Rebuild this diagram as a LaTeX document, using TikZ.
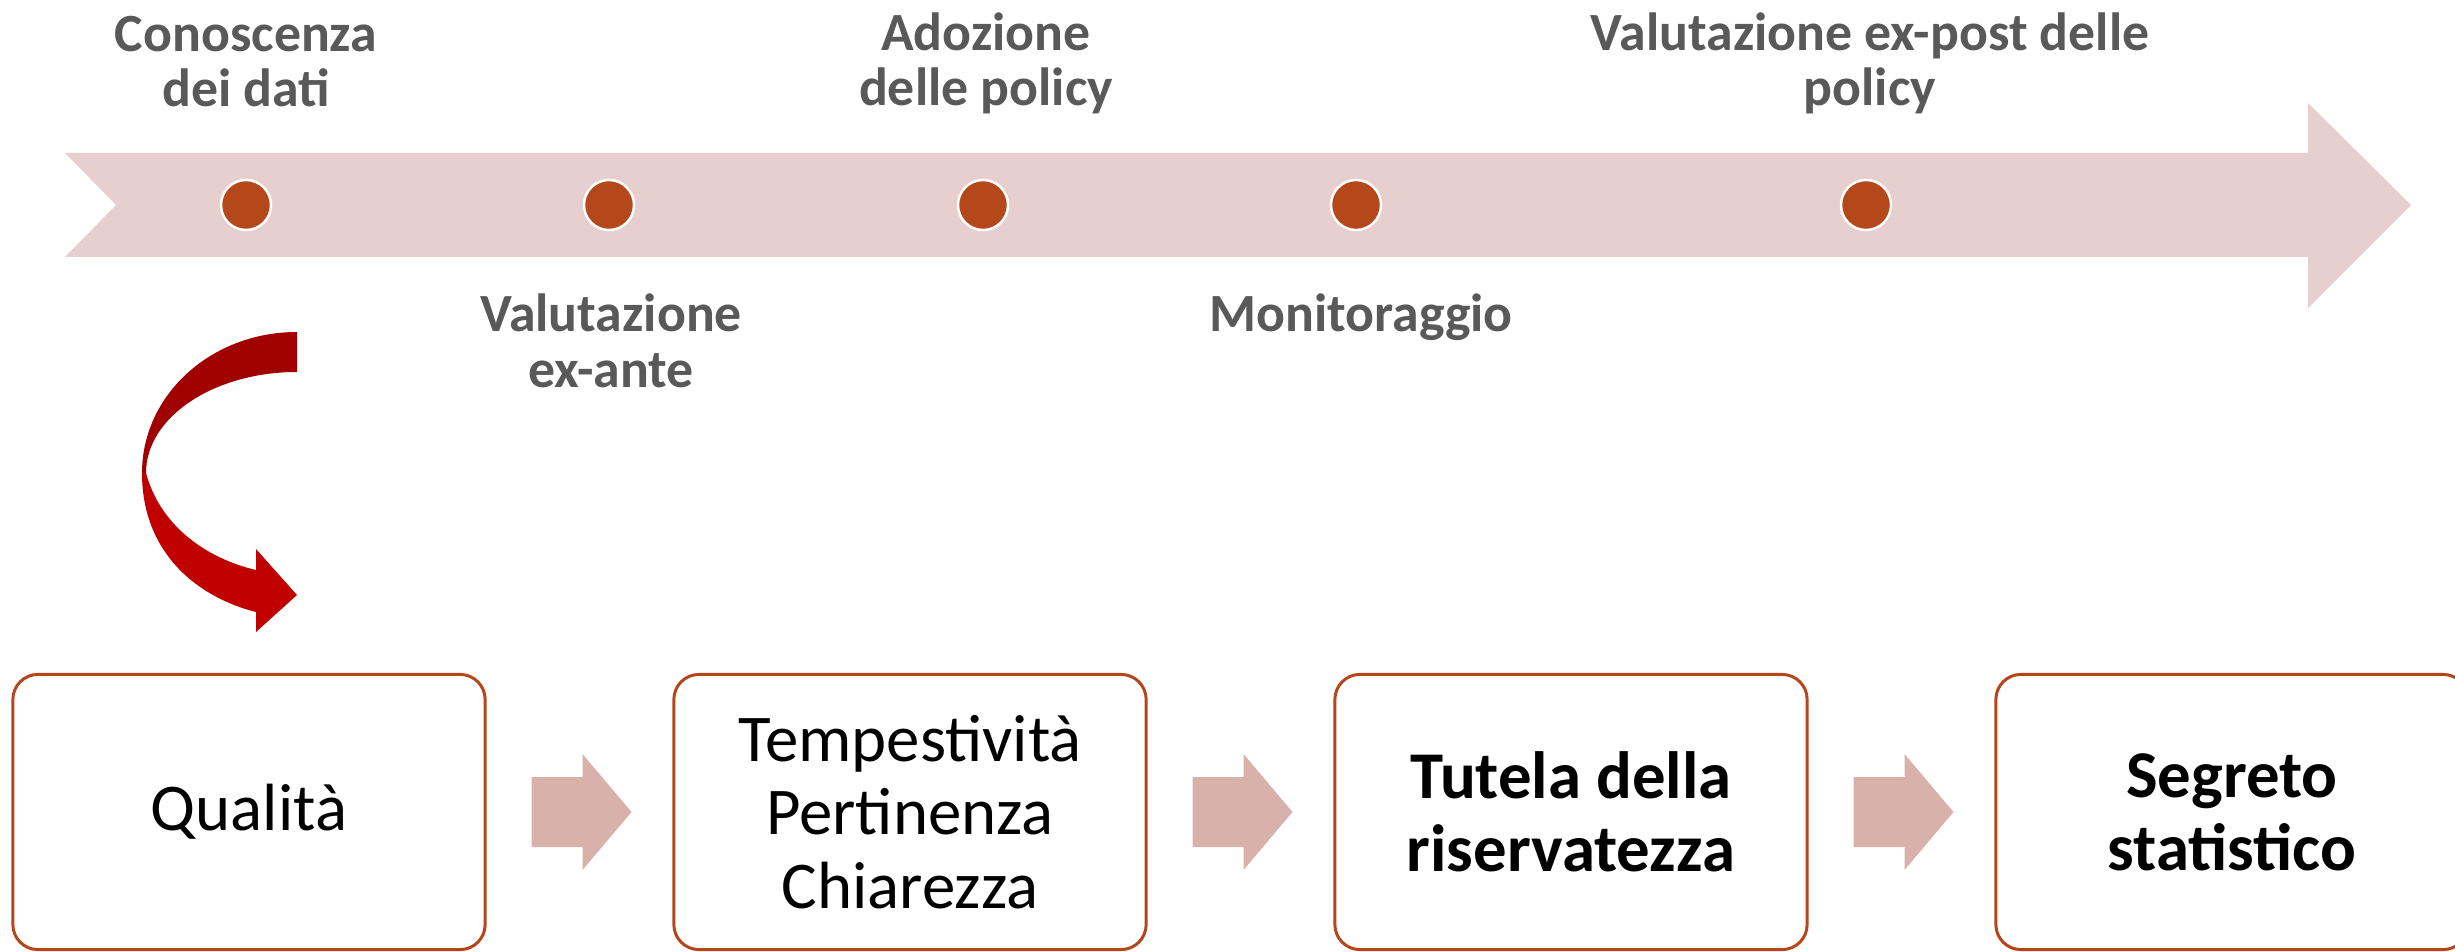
\documentclass[tikz,border=0pt]{standalone}
\usepackage{fontspec}
\setmainfont{Carlito}
\definecolor{bandc}{HTML}{E6CFCE}
\definecolor{sarr}{HTML}{D9B1AB}
\definecolor{dotc}{HTML}{B4481B}
\definecolor{boxc}{HTML}{B5461C}
\definecolor{txtgray}{HTML}{595959}
\definecolor{cdark}{HTML}{A00000}
\definecolor{clight}{HTML}{C00000}
\begin{document}
\begin{tikzpicture}[x=0.01cm,y=-0.01cm,
  dotn/.style={circle,fill=dotc,draw=white,line width=0.7pt,minimum size=0.5cm,inner sep=0},
  lbl/.style={font=\bfseries\fontsize{15.3}{15.9}\selectfont,text=txtgray,align=center,anchor=base,inner sep=0},
  boxn/.style={draw=boxc,line width=0.85pt,rounded corners=0.25cm,minimum width=4.72cm,minimum height=2.75cm,align=center,inner sep=0,font=\fontsize{19}{20.8}\selectfont},
  boldbox/.style={boxn,font=\bfseries\fontsize{19}{20.8}\selectfont},
  smallarrow/.style={fill=sarr},
]
\useasboundingbox (0,0) rectangle (2455,952);
\clip (0,0) rectangle (2455,952);
% big timeline arrow
\fill[bandc] (65,153) -- (2308,153) -- (2308,103) -- (2411,205) -- (2308,308) -- (2308,257) -- (65,257) -- (116,205) -- cycle;
% dots
\node[dotn] (d1) at (246,205) {};
\node[dotn] (d2) at (609,205) {};
\node[dotn] (d3) at (983,205) {};
\node[dotn] (d4) at (1356,205) {};
\node[dotn] (d5) at (1866,205) {};
% labels (base = baseline of last line)
\node[lbl] (l1) at (246,107) {Conoscenza\\dei dati};
\node[lbl] (l2) at (611,387) {Valutazione\\ex-ante};
\node[lbl] (l3) at (986,106) {Adozione\\delle policy};
\node[lbl] (l4) at (1361,332) {Monitoraggio};
\node[lbl] (l5) at (1870,106) {Valutazione ex-post delle\\policy};
% curved arrow
\fill[cdark] (297,332) .. controls (211,332) and (142,395) .. (142,473) -- (146,473) .. controls (146,417) and (214,372) .. (297,372) -- cycle;
\fill[clight] (142,473) .. controls (142,555) and (200,598) .. (256,612) -- (256,632) -- (297,595) -- (256,549) -- (256,570) .. controls (205,558) and (160,525) .. (146,473) -- cycle;
% boxes
\node[boxn] (b1) at (249,812) {Qualità};
\node[boxn] (b2) at (910,812) {Tempestività\\Pertinenza\\Chiarezza};
\node[boldbox] (b3) at (1571,812) {Tutela della\\riservatezza};
\node[boldbox] (b4) at (2232,812) {Segreto\\statistico};
% small block arrows
\foreach \a/\b in {b1/b2,b2/b3,b3/b4}{
  \path (\a.east) -- (\b.west) coordinate[pos=0.5] (m);
  \fill[smallarrow] (m) ++(-48,-35) -- ++(51,0) -- ++(0,-23) -- ++(49,58) -- ++(-49,58) -- ++(0,-23) -- ++(-51,0) -- cycle;
}
\end{tikzpicture}
\end{document}
